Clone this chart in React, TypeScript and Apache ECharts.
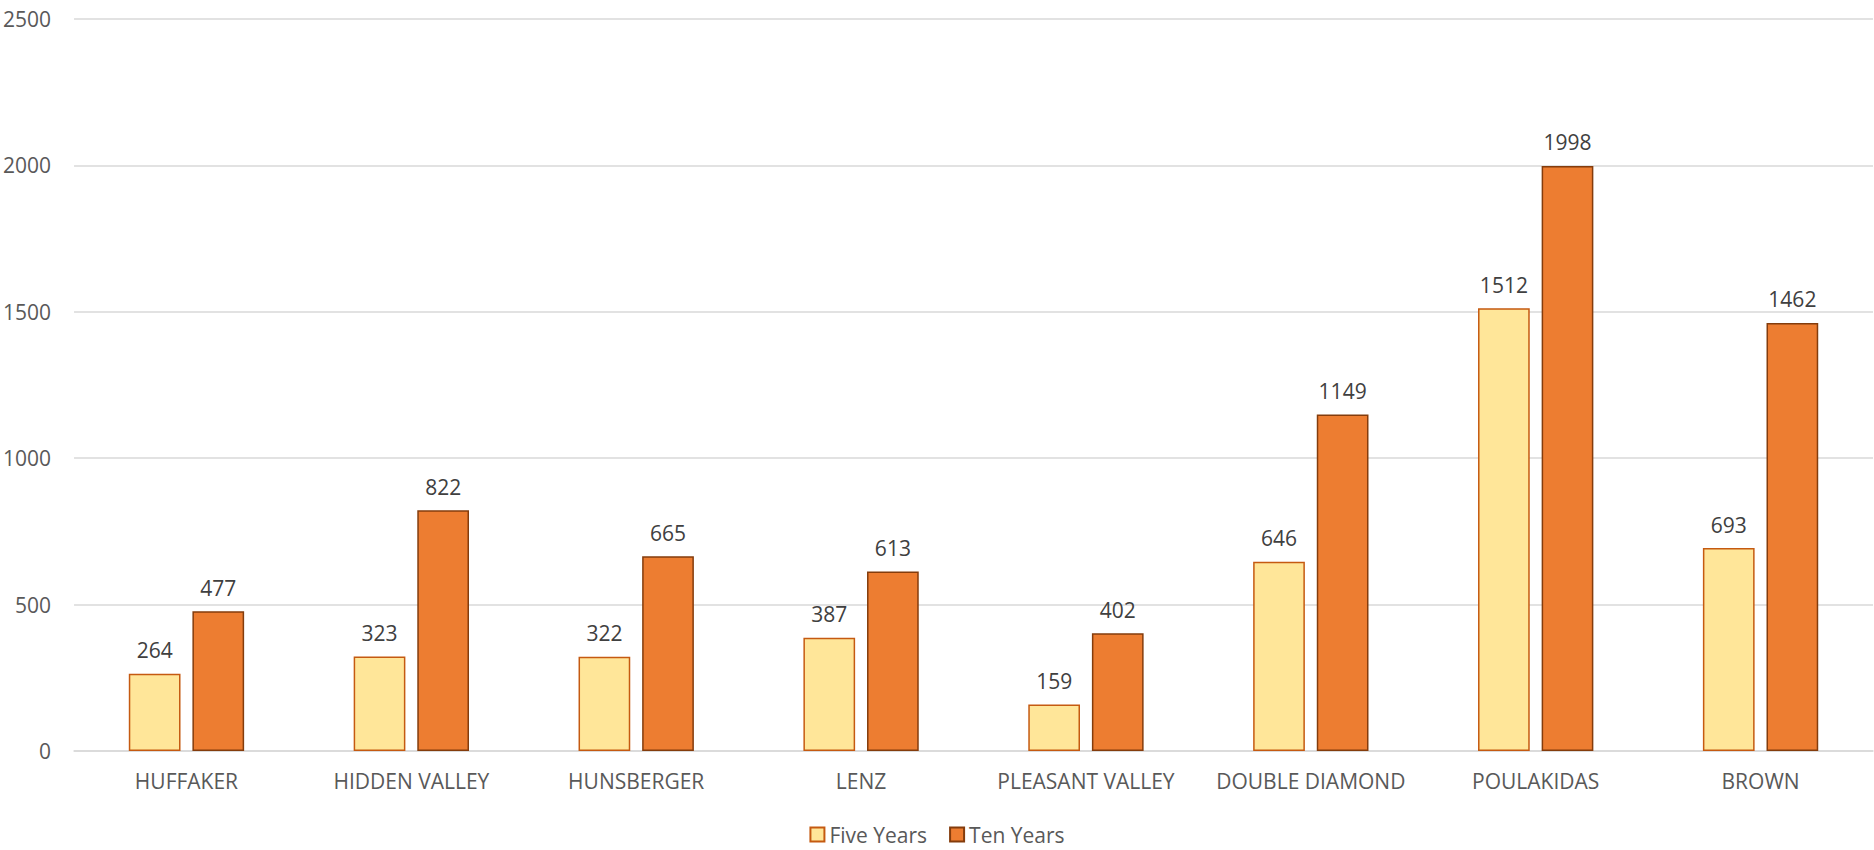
import React, { useEffect, useRef } from "react";
import * as echarts from "echarts";

const categories = [
  "HUFFAKER",
  "HIDDEN VALLEY",
  "HUNSBERGER",
  "LENZ",
  "PLEASANT VALLEY",
  "DOUBLE DIAMOND",
  "POULAKIDAS",
  "BROWN",
];
const fiveYears = [264, 323, 322, 387, 159, 646, 1512, 693];
const tenYears = [477, 822, 665, 613, 402, 1149, 1998, 1462];
const seriesNames = ["Five Years", "Ten Years"];

const FONT = "'Open Sans', 'Noto Sans', sans-serif";
const TEXT = "#595959";

export default function App() {
  const ref = useRef<HTMLDivElement>(null);
  useEffect(() => {
    document.body.style.margin = "0";
    if (!ref.current) return;
    const chart = echarts.init(ref.current, undefined, { renderer: "svg" });
    chart.setOption({
      animation: false,
      backgroundColor: "#ffffff",
      textStyle: { fontFamily: FONT },
      grid: { left: 70, right: 1, top: 19, bottom: 99, containLabel: false },
      legend: {
        bottom: 0,
        left: "center",
        itemWidth: 14,
        itemHeight: 14,
        itemGap: 22,
        icon: "rect",
        textStyle: { color: TEXT, fontSize: 21, fontFamily: FONT },
        data: seriesNames,
      },
      xAxis: {
        type: "category",
        data: categories,
        axisLine: { show: true, lineStyle: { color: "#d9d9d9", width: 1.5 } },
        axisTick: { show: false },
        axisLabel: { color: TEXT, fontSize: 21, fontFamily: FONT, margin: 19, interval: 0 },
      },
      yAxis: {
        type: "value",
        min: 0,
        max: 2500,
        interval: 500,
        axisLine: { show: false },
        axisTick: { show: false },
        axisLabel: {
          color: TEXT,
          fontSize: 21,
          fontFamily: FONT,
          margin: 23,
          formatter: (v: number) => String(v),
        },
        splitLine: { lineStyle: { color: "#d9d9d9", width: 1.5 } },
      },
      series: [
        {
          name: seriesNames[0],
          type: "bar",
          data: fiveYears,
          barWidth: "23%",
          barGap: "23%",
          itemStyle: { color: "#FFE699", borderColor: "#C55A11", borderWidth: 1.5 },
          label: { show: true, position: "top", distance: 13, color: "#404040", fontSize: 21, fontFamily: FONT },
        },
        {
          name: seriesNames[1],
          type: "bar",
          data: tenYears,
          barWidth: "23%",
          barGap: "23%",
          itemStyle: { color: "#ED7D31", borderColor: "#843C0C", borderWidth: 1.5 },
          label: { show: true, position: "top", distance: 13, color: "#404040", fontSize: 21, fontFamily: FONT },
        },
      ],
    });
    return () => chart.dispose();
  }, []);
  return <div ref={ref} style={{ width: 1874, height: 850 }} />;
}
